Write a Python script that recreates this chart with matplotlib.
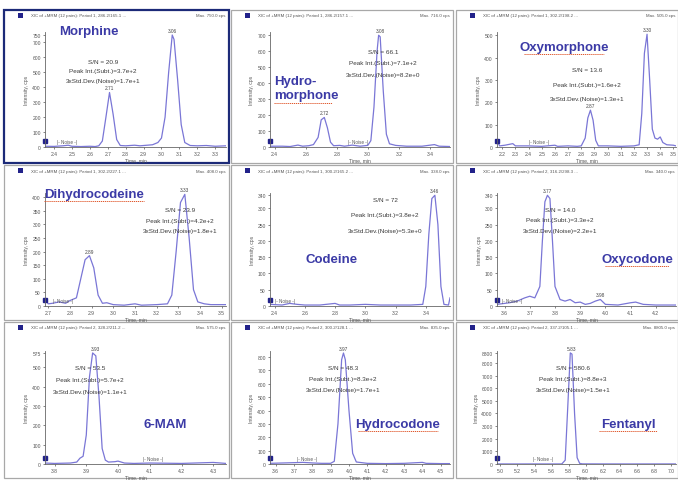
import numpy as np
import matplotlib
matplotlib.use("Agg")
import matplotlib.pyplot as plt
from matplotlib.patches import Rectangle
from matplotlib.lines import Line2D

plt.rcParams['font.family'] = ['Liberation Sans', 'DejaVu Sans']

# ---- data ----
names = ['Morphine', 'Hydro-\nmorphone', 'Oxymorphone',
         'Dihydrocodeine', 'Codeine', 'Oxycodone',
         '6-MAM', 'Hydrocodone', 'Fentanyl']

headers = ['XIC of +MRM (12 pairs): Period 1, 286.2/165.1 ...',
           'XIC of +MRM (12 pairs): Period 1, 286.2/157.1 ...',
           'XIC of +MRM (12 pairs): Period 1, 302.2/198.2 ...',
           'XIC of +MRM (12 pairs): Period 1, 302.2/227.1 ...',
           'XIC of +MRM (12 pairs): Period 1, 300.2/165.2 ...',
           'XIC of +MRM (12 pairs): Period 2, 316.2/298.3 ...',
           'XIC of +MRM (12 pairs): Period 2, 328.2/211.2 ...',
           'XIC of +MRM (12 pairs): Period 2, 300.2/128.1 ...',
           'XIC of +MRM (12 pairs): Period 2, 337.2/105.1 ...']
max_cps = ['750.0', '716.0', '505.0', '408.0', '338.0', '340.0', '575.0', '835.0', '8805.0']

sn = ['20.9', '66.1', '13.6', '23.9', '72', '14.0', '53.5', '48.3', '580.6']
peak_int = ['3.7e+2', '7.1e+2', '1.6e+2', '4.2e+2', '3.8e+2', '3.3e+2', '5.7e+2', '8.3e+2', '8.8e+3']
noise_sd = ['1.7e+1', '8.2e+0', '1.3e+1', '1.8e+1', '5.3e+0', '2.2e+1', '1.1e+1', '1.7e+1', '1.5e+1']

morphine_t = [2.35, 2.40, 2.45, 2.48, 2.50, 2.55, 2.60, 2.63, 2.65, 2.67, 2.69, 2.71, 2.73, 2.75, 2.77,
              2.80, 2.85, 2.88, 2.92, 2.95, 2.98, 3.00, 3.02, 3.04, 3.06, 3.07, 3.09, 3.11, 3.13, 3.16,
              3.20, 3.25, 3.30, 3.36]
morphine_y = [5, 4, 8, 12, 5, 3, 5, 3, 8, 40, 200, 365, 220, 50, 10,
              8, 12, 8, 12, 15, 30, 60, 200, 500, 750, 720, 450, 150, 30, 10,
              8, 10, 5, 8]

hydromorphone_t = [2.37, 2.45, 2.50, 2.55, 2.58, 2.62, 2.65, 2.68, 2.70, 2.72, 2.74, 2.76, 2.78, 2.82,
                   2.85, 2.90, 2.95, 3.00, 3.02, 3.04, 3.06, 3.07, 3.08, 3.10, 3.12, 3.14, 3.18, 3.25,
                   3.35, 3.43, 3.46, 3.53]
hydromorphone_y = [5, 5, 3, 12, 5, 8, 15, 60, 170, 185, 120, 30, 8, 10,
                   5, 12, 5, 10, 40, 250, 600, 700, 690, 350, 80, 20, 10, 5,
                   5, 15, 5, 3]

oxymorphone_t = [2.16, 2.18, 2.22, 2.28, 2.30, 2.40, 2.50, 2.60, 2.62, 2.70, 2.77, 2.80, 2.83, 2.85,
                 2.87, 2.89, 2.91, 2.93, 3.00, 3.10, 3.20, 3.24, 3.26, 3.28, 3.30, 3.32, 3.34, 3.36,
                 3.38, 3.40, 3.42, 3.45, 3.50, 3.52]
oxymorphone_y = [30, 5, 8, 15, 5, 5, 3, 8, 3, 5, 3, 5, 40, 130,
                 165, 120, 30, 5, 5, 3, 5, 10, 150, 420, 505, 300, 80, 40,
                 35, 45, 20, 10, 8, 5]

dihydrocodeine_t = [2.685, 2.70, 2.72, 2.75, 2.78, 2.80, 2.83, 2.85, 2.87, 2.89, 2.91, 2.93, 2.95,
                    2.97, 3.00, 3.05, 3.10, 3.13, 3.20, 3.25, 3.27, 3.29, 3.31, 3.33, 3.35, 3.37,
                    3.39, 3.42, 3.45, 3.52]
dihydrocodeine_y = [25, 8, 10, 15, 10, 20, 30, 100, 170, 185, 140, 40, 10,
                    12, 5, 3, 8, 3, 5, 8, 40, 200, 380, 410, 250, 60,
                    15, 8, 5, 5]

codeine_t = [2.37, 2.45, 2.50, 2.55, 2.60, 2.70, 2.80, 2.83, 2.90, 3.00, 3.10, 3.20, 3.30, 3.38,
             3.40, 3.42, 3.44, 3.46, 3.48, 3.50, 3.52, 3.55, 3.56]
codeine_y = [5, 3, 8, 5, 3, 3, 8, 3, 3, 5, 3, 3, 3, 5,
             60, 220, 330, 340, 250, 60, 5, 3, 25]

oxycodone_t = [3.57, 3.60, 3.62, 3.65, 3.68, 3.70, 3.72, 3.74, 3.75, 3.76, 3.77, 3.78, 3.79, 3.80,
               3.82, 3.84, 3.86, 3.88, 3.90, 3.92, 3.94, 3.96, 3.98, 4.00, 4.05, 4.10, 4.12, 4.15,
               4.20, 4.28]
oxycodone_y = [5, 8, 10, 15, 25, 30, 25, 60, 200, 320, 340, 330, 200, 60,
               20, 15, 20, 10, 12, 5, 8, 15, 20, 5, 3, 10, 12, 5,
               3, 3]

mam_t = [3.77, 3.80, 3.85, 3.87, 3.88, 3.89, 3.90, 3.91, 3.92, 3.93, 3.94, 3.95, 3.96, 3.97,
         3.99, 4.00, 4.02, 4.05, 4.10, 4.20, 4.30, 4.34]
mam_y = [5, 3, 5, 10, 30, 40, 150, 450, 575, 560, 350, 80, 20, 10,
         12, 15, 5, 3, 5, 3, 8, 3]

hydrocodone_t = [3.57, 3.65, 3.70, 3.75, 3.80, 3.85, 3.90, 3.92, 3.94, 3.96, 3.97, 3.98, 4.00,
                 4.02, 4.04, 4.10, 4.20, 4.30, 4.40, 4.42, 4.50, 4.55]
hydrocodone_y = [5, 8, 10, 12, 8, 5, 5, 20, 300, 780, 830, 780, 400,
                 80, 15, 5, 3, 5, 12, 5, 3, 3]

fentanyl_t = [4.96, 5.20, 5.40, 5.60, 5.72, 5.76, 5.79, 5.82, 5.84, 5.87, 5.90, 5.93, 5.96,
              6.20, 6.50, 7.06]
fentanyl_y = [5, 3, 5, 3, 5, 300, 4500, 8800, 8700, 4000, 500, 50, 10,
              5, 3, 5]

traces = [(morphine_t, morphine_y), (hydromorphone_t, hydromorphone_y),
          (oxymorphone_t, oxymorphone_y), (dihydrocodeine_t, dihydrocodeine_y),
          (codeine_t, codeine_y), (oxycodone_t, oxycodone_y), (mam_t, mam_y),
          (hydrocodone_t, hydrocodone_y), (fentanyl_t, fentanyl_y)]

peak_rts = [[2.71, 3.06], [2.72, 3.08], [2.87, 3.30], [2.89, 3.33], [3.46],
            [3.77, 3.98], [3.93], [3.97], [5.83]]

xticks = [np.round(np.arange(2.4, 3.31, 0.1), 1), np.round(np.arange(2.4, 3.41, 0.2), 1),
          np.round(np.arange(2.2, 3.51, 0.1), 1), np.round(np.arange(2.7, 3.51, 0.1), 1),
          np.round(np.arange(2.4, 3.41, 0.2), 1), np.round(np.arange(3.6, 4.21, 0.1), 1),
          np.round(np.arange(3.8, 4.31, 0.1), 1), np.round(np.arange(3.6, 4.51, 0.1), 1),
          np.round(np.arange(5.0, 7.01, 0.2), 1)]
xlims = [(2.35, 3.36), (2.37, 3.53), (2.16, 3.52), (2.685, 3.52), (2.37, 3.56),
         (3.57, 4.28), (3.77, 4.34), (3.57, 4.55), (4.96, 7.06)]
yticks = [[0, 100, 200, 300, 400, 500, 600, 700, 750],
          [0, 100, 200, 300, 400, 500, 600, 700],
          [0, 100, 200, 300, 400, 500],
          [0, 50, 100, 150, 200, 250, 300, 350, 400],
          [0, 50, 100, 150, 200, 250, 300, 340],
          [0, 50, 100, 150, 200, 250, 300, 340],
          [0, 100, 200, 300, 400, 500, 575],
          [0, 100, 200, 300, 400, 500, 600, 700, 800],
          [0, 1000, 2000, 3000, 4000, 5000, 6000, 7000, 8000, 8800]]
ytops = [770, 720, 515, 415, 347, 347, 585, 845, 8950]
noise_x = [2.47, 2.94, 2.48, 2.77, 2.47, 3.63, 4.11, 3.77, 5.50]

# ---- layout (pixels) ----
W, H = 678, 481
def fx(p): return p / W
def fy(p): return 1 - p / H

panel_cols = [(4, 229), (231, 453), (456, 678)]
panel_rows = [(11, 164), (166, 321), (323, 479)]
ax_cols = [(45, 226), (270, 450), (497, 676)]
ax_rows = [(33, 148), (194, 307), (352, 465)]

# (x, y, horizontal alignment)
name_pos = [(89, 32, 'center'), (274, 89, 'left'), (564, 48, 'center'),
            (94, 195, 'center'), (332, 260, 'center'), (637, 260, 'center'),
            (165, 425, 'center'), (398, 425, 'center'), (628, 425, 'center')]
stats_pos = [(103, 62), (383, 52), (587, 71), (180, 211), (385, 200), (560, 210),
             (90, 368), (343, 368), (573, 368)]
stats_gap = [10, 11.5, 14.5, 10.5, 15.5, 11, 12.5, 11.5, 11.5]
underline = [False, True, True, True, False, True, False, True, True]

trace_col = '#7a76d6'
name_col = '#3b3aa6'
txt_col = '#3a3a3a'

fig = plt.figure(figsize=(6.78, 4.81), dpi=100)
fig.patch.set_facecolor('white')

for i in range(9):
    r, c = divmod(i, 3)
    x0, x1 = panel_cols[c]
    y0, y1 = panel_rows[r]
    edge = '#1c2a78' if i == 0 else '#a8a8a8'
    lw = 1.6 if i == 0 else 0.9
    fig.patches.append(Rectangle((fx(x0), fy(y1)), fx(x1 - x0), (y1 - y0) / H,
                                 transform=fig.transFigure, facecolor='white',
                                 edgecolor=edge, linewidth=lw, zorder=-5))
    # header line
    hy = y0 + 5
    fig.patches.append(Rectangle((fx(x0 + 14), fy(hy + 3)), fx(5), 5 / H,
                                 transform=fig.transFigure, facecolor='#22228a',
                                 edgecolor='none', zorder=-4))
    fig.text(fx(x0 + 27), fy(hy + 0.5), headers[i], fontsize=3.2, color='#555555',
             va='center', ha='left')
    fig.text(fx(x1 - 3), fy(hy + 0.5), 'Max. %s cps' % max_cps[i], fontsize=3.2,
             color='#555555', va='center', ha='right')

    ax0, ax1 = ax_cols[c]
    ay0, ay1 = ax_rows[r]
    ax = fig.add_axes([fx(ax0), fy(ay1), fx(ax1 - ax0), (ay1 - ay0) / H])
    ax.set_zorder(1)
    ax.patch.set_alpha(0)
    t, y = traces[i]
    ax.plot(t, y, color=trace_col, lw=0.9)
    ax.set_xlim(*xlims[i])
    ax.set_ylim(0, ytops[i])
    ax.set_xticks(xticks[i])
    ax.set_xticklabels(['%.1f' % v for v in xticks[i]])
    ax.set_yticks(yticks[i])
    for s in ['top', 'right']:
        ax.spines[s].set_visible(False)
    for s in ['left', 'bottom']:
        ax.spines[s].set_color('#666666')
        ax.spines[s].set_linewidth(0.6)
    ax.tick_params(labelsize=3.6, colors='#555555', length=1.5, width=0.5, pad=1.5)
    ax.set_xlabel('Time, min', fontsize=3.6, color='#555555', labelpad=1)
    ax.set_ylabel('Intensity, cps', fontsize=3.6, color='#555555', labelpad=2)

    # peak labels
    ta, ya = np.array(t), np.array(y)
    for rt in peak_rts[i]:
        sel = np.abs(ta - rt) <= 0.025
        top = ya[sel].max()
        ax.annotate('%.2f' % rt, (rt, top), xytext=(0, 1.5), textcoords='offset points',
                    fontsize=3.4, color='#444444', ha='center', va='bottom')

    # noise marker
    ax.text(noise_x[i], ytops[i] * 0.025, '|- Noise -|', fontsize=3.3, color='#555555',
            ha='center', va='bottom')
    # small marker at baseline
    ax.plot([xlims[i][0]], [ytops[i] * 0.05], marker='s', ms=2.2, color='#22228a',
            clip_on=False)

    # stats
    sx, sy = stats_pos[i]
    g = stats_gap[i]
    fig.text(fx(sx), fy(sy), 'S/N = %s' % sn[i], fontsize=4.6, color=txt_col,
             ha='center', va='center', zorder=3)
    fig.text(fx(sx), fy(sy + g), 'Peak Int.(Subt.)=%s' % peak_int[i], fontsize=4.6,
             color=txt_col, ha='center', va='center', zorder=3)
    fig.text(fx(sx), fy(sy + 2 * g), '3xStd.Dev.(Noise)=%s' % noise_sd[i], fontsize=4.6,
             color=txt_col, ha='center', va='center', zorder=3)

    # compound name
    nx, ny, nha = name_pos[i]
    fig.text(fx(nx), fy(ny), names[i], fontsize=9.5, fontweight='bold', color=name_col,
             ha=nha, va='center', multialignment='left', linespacing=1.3, zorder=3)

# red spell-check underlines under some names
for i in range(9):
    if not underline[i]:
        continue
    nx, ny, nha = name_pos[i]
    label = names[i].split('\n')[-1]
    half = len(label) * 3.6
    if nha == 'left':
        nx = nx + half
    yline = ny + (15 if '\n' in names[i] else 7)
    fig.lines.append(Line2D([fx(nx - half), fx(nx + half)], [fy(yline), fy(yline)],
                            transform=fig.transFigure, color='#e0562a', lw=0.7,
                            linestyle=(0, (1.2, 0.8)), zorder=3))

fig.savefig('out.png', dpi=100)
